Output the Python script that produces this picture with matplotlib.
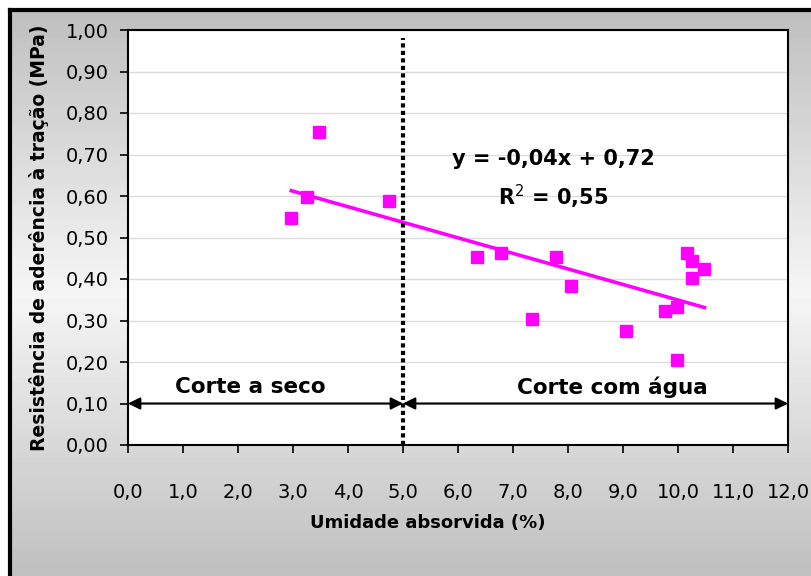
import numpy as np
import matplotlib
matplotlib.use("Agg")
import matplotlib.pyplot as plt

# umidade absorvida (%) x resistencia de aderencia (MPa)
umidade = [2.97, 3.26, 3.47, 4.75, 6.35, 6.78, 7.35, 7.78, 8.05, 9.05,
           9.76, 9.98, 9.98, 10.16, 10.26, 10.26, 10.48]
resist = [0.548, 0.597, 0.755, 0.588, 0.453, 0.462, 0.304, 0.453, 0.383, 0.274,
          0.324, 0.333, 0.205, 0.463, 0.443, 0.403, 0.423]
yticks = np.arange(0, 1.01, 0.1)
xticks = np.arange(0, 12.1, 1.0)

fig = plt.figure(figsize=(8.12, 5.76), dpi=100)

# fundo cinza degrade
bg = fig.add_axes([10 / 812, 0, 1 - 10 / 812, 1 - 10 / 576])
grad = np.concatenate([np.linspace(0.75, 0.96, 60), np.linspace(0.96, 0.75, 60)])
bg.imshow(grad[:, None], aspect="auto", cmap="gray", vmin=0, vmax=1,
          extent=[0, 1, 0, 1])
bg.set_xticks([])
bg.set_yticks([])
for s in ["right", "bottom"]:
    bg.spines[s].set_visible(False)
for s in ["left", "top"]:
    bg.spines[s].set_linewidth(3)

ax = fig.add_axes([128 / 812, 131 / 576, 660 / 812, 415 / 576])
ax.set_facecolor("white")
ax.set_xlim(0, 12)
ax.set_ylim(0, 1)
ax.set_yticks(yticks)
ax.set_yticklabels([("%.2f" % v).replace(".", ",") for v in yticks])
ax.set_xticks(xticks)
ax.set_xticklabels([("%.1f" % v).replace(".", ",") for v in xticks])
ax.grid(axis="y", color="#dddddd", lw=1)
ax.set_axisbelow(True)
ax.tick_params(axis="y", length=6, width=1.2, pad=8, labelsize=14)
ax.tick_params(axis="x", length=6, width=1.2, pad=21, labelsize=14)
for s in ax.spines.values():
    s.set_linewidth(1.5)

# tendencia linear
a, b = np.polyfit(umidade, resist, 1)
xs = np.sort(np.array(umidade))
ax.plot(xs, a * xs + b, color="#ff00ff", lw=2.6, zorder=3)
ax.plot(umidade, resist, "s", color="#ff00ff", ms=8, zorder=4)

ax.plot([5, 5], [0, 0.98], color="black", lw=3, linestyle=(0, (1, 0.8)),
        dash_capstyle="butt", zorder=5)

arrow = dict(arrowstyle="<|-|>", color="black", lw=1.5, mutation_scale=18,
             shrinkA=0, shrinkB=0)
ax.annotate("", xy=(0, 0.10), xytext=(5, 0.10), arrowprops=arrow)
ax.annotate("", xy=(5, 0.10), xytext=(12, 0.10), arrowprops=arrow)
ax.text(2.22, 0.14, "Corte a seco", ha="center", va="center",
        fontsize=15.5, fontweight="bold")
ax.text(8.8, 0.14, "Corte com água", ha="center", va="center",
        fontsize=15.5, fontweight="bold")
ax.text(7.73, 0.69, "y = -0,04x + 0,72", ha="center", va="center",
        fontsize=15, fontweight="bold")
ax.text(7.73, 0.598, "R$^2$ = 0,55", ha="center", va="center",
        fontsize=15, fontweight="bold")

ax.set_ylabel("Resistência de aderência à tração (MPa)", fontsize=13.5,
              fontweight="bold", labelpad=12)
fig.text(428 / 812, 1 - 523 / 576, "Umidade absorvida (%)", ha="center",
         va="center", fontsize=13, fontweight="bold")

fig.savefig("out.png", dpi=100)
plt.close(fig)
